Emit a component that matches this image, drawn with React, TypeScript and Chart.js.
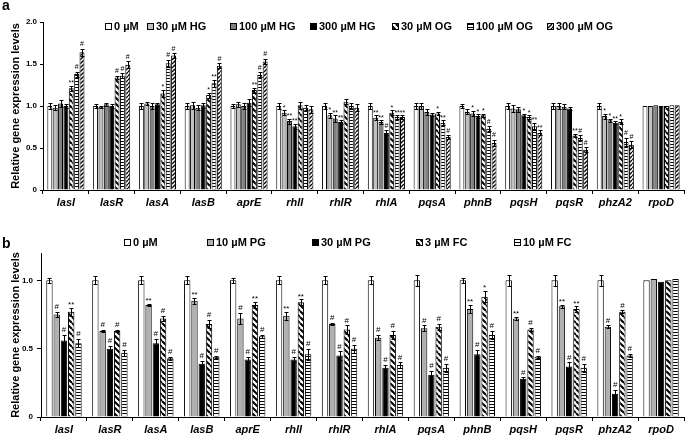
import React, { useEffect, useRef } from 'react';
import { Chart, registerables } from 'chart.js';

Chart.register(...registerables);

const FONT = '"Liberation Sans", Arial, sans-serif';
Chart.defaults.font.family = FONT;

const genes = ['lasI', 'lasR', 'lasA', 'lasB', 'aprE', 'rhlI', 'rhlR', 'rhlA', 'pqsA', 'phnB', 'pqsH', 'pqsR', 'phzA2', 'rpoD'];

// ---------- Panel a ----------
const yTicksA = [0, 0.5, 1, 1.5, 2];
const legendA = ['0 µM', '30 µM HG', '100 µM HG', '300 µM HG', '30 µM OG', '100 µM OG', '300 µM OG'];
const a0 = [1.0, 1.0, 1.0, 1.0, 1.0, 1.0, 1.0, 1.0, 1.0, 1.0, 1.0, 1.0, 1.0, 1.0];
const aHG30 = [0.98, 0.99, 1.03, 1.01, 1.02, 0.92, 0.89, 0.86, 1.0, 0.93, 0.97, 1.0, 0.88, 1.0];
const aHG100 = [1.03, 1.02, 1.0, 0.98, 1.0, 0.82, 0.85, 0.81, 0.93, 0.91, 0.96, 0.99, 0.83, 1.01];
const aHG300 = [1.0, 1.0, 1.02, 1.01, 1.04, 0.76, 0.81, 0.68, 0.9, 0.88, 0.89, 0.97, 0.8, 1.0];
const aOG30 = [1.21, 1.34, 1.15, 1.13, 1.19, 1.01, 1.05, 0.92, 0.91, 0.89, 0.87, 0.65, 0.81, 1.0];
const aOG100 = [1.38, 1.36, 1.51, 1.27, 1.37, 0.98, 1.0, 0.87, 0.8, 0.73, 0.76, 0.62, 0.57, 1.01];
const aOG300 = [1.64, 1.49, 1.6, 1.48, 1.53, 0.96, 0.98, 0.87, 0.63, 0.56, 0.68, 0.48, 0.54, 1.01];

const aErr0 = [0.03, 0.02, 0.03, 0.03, 0.02, 0.03, 0.03, 0.03, 0.04, 0.02, 0.04, 0.04, 0.04, 0];
const aErrHG30 = [0.03, 0.01, 0.02, 0.04, 0.03, 0.03, 0.03, 0.03, 0.03, 0.03, 0.04, 0.03, 0.03, 0];
const aErrHG100 = [0.04, 0.02, 0.03, 0.03, 0.03, 0.03, 0.04, 0.02, 0.04, 0.03, 0.03, 0.03, 0.02, 0];
const aErrHG300 = [0.02, 0.02, 0.02, 0.03, 0.04, 0.03, 0.02, 0.03, 0.02, 0.02, 0.02, 0.02, 0.02, 0];
const aErrOG30 = [0.03, 0.02, 0.04, 0.03, 0.03, 0.04, 0.03, 0.03, 0.02, 0.02, 0.02, 0.02, 0.03, 0];
const aErrOG100 = [0.03, 0.03, 0.04, 0.04, 0.03, 0.03, 0.03, 0.02, 0.03, 0.03, 0.04, 0.03, 0.05, 0];
const aErrOG300 = [0.04, 0.04, 0.03, 0.03, 0.03, 0.04, 0.04, 0.02, 0.02, 0.04, 0.03, 0.03, 0.04, 0];

const aMk0 = ['', '', '', '', '', '', '', '', '', '', '', '', '', ''];
const aMkHG30 = ['', '', '', '', '', '*', '*', '**', '', '', '', '', '*', ''];
const aMkHG100 = ['', '', '', '', '', '**', '**', '**', '', '*', '', '', '*', ''];
const aMkHG300 = ['', '', '', '', '', '**', '**', '#', '', '*', '*', '', '**', ''];
const aMkOG30 = ['**', '#', '*', '*', '**', '', '', '*', '*', '*', '*', '**', '*', ''];
const aMkOG100 = ['#', '#', '#', '**', '#', '', '', '**', '**', '#', '**', '#', '#', ''];
const aMkOG300 = ['#', '#', '#', '#', '#', '', '', '**', '#', '#', '**', '#', '#', ''];

// ---------- Panel b ----------
const yTicksB = [0, 0.5, 1];
const legendB = ['0 µM', '10 µM PG', '30 µM PG', '3 µM FC', '10 µM FC'];
const b0 = [1.0, 1.0, 1.0, 1.0, 1.0, 1.0, 1.0, 1.0, 1.0, 1.0, 1.0, 1.0, 1.0, 1.0];
const bPG10 = [0.75, 0.63, 0.82, 0.85, 0.72, 0.74, 0.68, 0.58, 0.65, 0.79, 0.72, 0.81, 0.66, 1.01];
const bPG30 = [0.56, 0.5, 0.54, 0.39, 0.42, 0.42, 0.45, 0.36, 0.31, 0.46, 0.28, 0.37, 0.17, 0.99];
const bFC3 = [0.77, 0.63, 0.72, 0.68, 0.82, 0.84, 0.64, 0.6, 0.66, 0.88, 0.64, 0.79, 0.77, 1.0];
const bFC10 = [0.54, 0.47, 0.43, 0.44, 0.59, 0.46, 0.5, 0.38, 0.36, 0.6, 0.44, 0.36, 0.45, 1.01];

const bErr0 = [0.02, 0.03, 0.03, 0.03, 0.02, 0.03, 0.03, 0.03, 0.04, 0.02, 0.04, 0.04, 0.04, 0];
const bErrPG10 = [0.02, 0.01, 0.01, 0.02, 0.04, 0.03, 0.01, 0.02, 0.02, 0.03, 0.01, 0.01, 0.01, 0];
const bErrPG30 = [0.04, 0.02, 0.03, 0.02, 0.02, 0.02, 0.03, 0.02, 0.03, 0.03, 0.01, 0.03, 0.03, 0];
const bErrFC3 = [0.03, 0.01, 0.02, 0.03, 0.02, 0.02, 0.03, 0.03, 0.02, 0.04, 0.01, 0.02, 0.01, 0];
const bErrFC10 = [0.03, 0.02, 0.01, 0.01, 0.01, 0.04, 0.03, 0.02, 0.03, 0.03, 0.01, 0.03, 0.01, 0];

const bMk0 = ['', '', '', '', '', '', '', '', '', '', '', '', '', ''];
const bMkPG10 = ['#', '#', '**', '**', '#', '**', '#', '#', '#', '**', '**', '**', '#', ''];
const bMkPG30 = ['#', '#', '#', '#', '#', '#', '#', '#', '#', '#', '#', '#', '#', ''];
const bMkFC3 = ['**', '#', '#', '#', '**', '**', '#', '#', '#', '*', '#', '**', '#', ''];
const bMkFC10 = ['#', '#', '#', '#', '#', '#', '#', '#', '#', '#', '#', '#', '#', ''];

const yTitle = 'Relative gene expression levels';

type PatKind = 'diagWide' | 'horiz' | 'diagDense';

function makePattern(kind: PatKind): CanvasPattern | string {
  const c = document.createElement('canvas');
  const s = kind === 'horiz' ? 3 : kind === 'diagWide' ? 6 : 4;
  c.width = s;
  c.height = s;
  const g = c.getContext('2d');
  if (!g) return '#888';
  g.fillStyle = '#fff';
  g.fillRect(0, 0, s, s);
  g.strokeStyle = '#000';
  g.fillStyle = '#000';
  if (kind === 'horiz') {
    g.fillRect(0, 0, s, 1);
  } else if (kind === 'diagWide') {
    g.lineWidth = 2;
    for (const k of [-s, 0, s]) {
      g.beginPath();
      g.moveTo(k, 0);
      g.lineTo(k + s, s);
      g.stroke();
    }
  } else {
    g.lineWidth = 1.3;
    for (const k of [-s, 0, s]) {
      g.beginPath();
      g.moveTo(k, s);
      g.lineTo(k + s, 0);
      g.stroke();
    }
  }
  const p = g.createPattern(c, 'repeat');
  return p || '#888';
}

const errorPlugin = {
  id: 'errorMarks',
  afterDatasetsDraw(chart: any, _args: any, opts: any) {
    const ctx = chart.ctx;
    const ys = chart.scales.y;
    const fs = (opts && opts.size) || 7;
    ctx.save();
    ctx.strokeStyle = '#000';
    ctx.fillStyle = '#000';
    ctx.lineWidth = 1;
    ctx.font = `${fs}px ${FONT}`;
    ctx.textAlign = 'center';
    ctx.textBaseline = 'bottom';
    chart.data.datasets.forEach((ds: any, i: number) => {
      const meta = chart.getDatasetMeta(i);
      meta.data.forEach((bar: any, j: number) => {
        const v = ds.data[j];
        const e = ds.errors ? ds.errors[j] : 0;
        const x = Math.round(bar.x) + 0.5;
        const top = ys.getPixelForValue(v + e);
        const bot = ys.getPixelForValue(v - e);
        if (e > 0) {
          const t = Math.round(top) + 0.5;
          const b = Math.round(bot) + 0.5;
          ctx.beginPath();
          ctx.moveTo(x, t);
          ctx.lineTo(x, b);
          ctx.moveTo(x - 2, t);
          ctx.lineTo(x + 2, t);
          ctx.moveTo(x - 2, b);
          ctx.lineTo(x + 2, b);
          ctx.stroke();
        }
        const m = ds.marks ? ds.marks[j] : '';
        if (m) {
          const off = m.indexOf('*') >= 0 ? -2 : 0;
          ctx.fillText(m, bar.x, top - 1 - off);
        }
      });
    });
    ctx.restore();
  },
};

function decorPlugin(letter: string, xs: number[], yc: number, letterBase: number) {
  return {
    id: 'decor' + letter,
    afterDraw(chart: any) {
      const ctx = chart.ctx;
      ctx.save();
      ctx.fillStyle = '#000';
      ctx.textAlign = 'left';
      ctx.textBaseline = 'alphabetic';
      ctx.font = `bold 14px ${FONT}`;
      ctx.fillText(letter, 2, letterBase);
      ctx.font = `bold 11px ${FONT}`;
      ctx.textBaseline = 'middle';
      chart.data.datasets.forEach((ds: any, i: number) => {
        const x = xs[i];
        ctx.fillStyle = ds.backgroundColor;
        ctx.fillRect(x, yc - 4, 7, 7);
        ctx.strokeStyle = '#000';
        ctx.lineWidth = 1;
        ctx.strokeRect(x + 0.5, yc - 3.5, 6, 6);
        ctx.fillStyle = '#000';
        ctx.fillText(ds.label, x + 9, yc);
      });
      ctx.restore();
    },
  };
}

function makeChart(
  canvas: HTMLCanvasElement,
  series: { label: string; data: number[]; fill: any; errors: number[]; marks: string[] }[],
  cfg: {
    yMax: number;
    ticks: number[];
    padTop: number;
    xHeight: number;
    yWidth: number;
    catPct: number;
    barPct: number;
    tickPad: number;
    yTickLen: number;
    markSize: number;
    letter: string;
    legendX: number[];
    legendY: number;
    letterBase: number;
  }
) {
  return new Chart(canvas, {
    type: 'bar',
    data: {
      labels: genes,
      datasets: series.map((s) => ({
        label: s.label,
        data: s.data,
        backgroundColor: s.fill,
        borderColor: '#000',
        borderWidth: 1,
        categoryPercentage: cfg.catPct,
        barPercentage: cfg.barPct,
        errors: s.errors,
        marks: s.marks,
      })) as any,
    },
    options: {
      animation: false,
      responsive: false,
      maintainAspectRatio: false,
      layout: { padding: { top: cfg.padTop, right: 1, left: 0, bottom: 0 } },
      plugins: {
        legend: { display: false },
        tooltip: { enabled: false },
        errorMarks: { size: cfg.markSize },
      } as any,
      scales: {
        x: {
          grid: { display: true, drawOnChartArea: false, drawTicks: true, tickLength: 4, color: '#000', offset: true },
          border: { display: true, color: '#000', width: 1 },
          ticks: {
            color: '#000',
            font: { size: 11, weight: 'bold', style: 'italic' },
            padding: 2,
            autoSkip: false,
            maxRotation: 0,
          },
          afterFit: (s: any) => {
            s.height = cfg.xHeight;
          },
        },
        y: {
          min: 0,
          max: cfg.yMax,
          afterBuildTicks: (s: any) => {
            s.ticks = cfg.ticks.map((v) => ({ value: v }));
          },
          grid: { display: true, drawOnChartArea: false, drawTicks: true, tickLength: cfg.yTickLen, color: '#000' },
          border: { display: true, color: '#000', width: 1 },
          ticks: { color: '#000', font: { size: 8, weight: 'bold' }, padding: cfg.tickPad },
          title: { display: true, text: yTitle, color: '#000', font: { size: 11, weight: 'bold' }, padding: { top: 9, bottom: 0 } },
          afterFit: (s: any) => {
            s.width = cfg.yWidth;
          },
        },
      } as any,
    },
    plugins: [errorPlugin, decorPlugin(cfg.letter, cfg.legendX, cfg.legendY, cfg.letterBase)],
  });
}

export default function App() {
  const refA = useRef<HTMLCanvasElement>(null);
  const refB = useRef<HTMLCanvasElement>(null);

  useEffect(() => {
    if (!refA.current || !refB.current) return;
    const diagWide = makePattern('diagWide');
    const horiz = makePattern('horiz');
    const diagDense = makePattern('diagDense');

    const seriesA = [
      { label: legendA[0], data: a0, fill: '#ffffff', errors: aErr0, marks: aMk0 },
      { label: legendA[1], data: aHG30, fill: '#c0c0c0', errors: aErrHG30, marks: aMkHG30 },
      { label: legendA[2], data: aHG100, fill: '#808080', errors: aErrHG100, marks: aMkHG100 },
      { label: legendA[3], data: aHG300, fill: '#000000', errors: aErrHG300, marks: aMkHG300 },
      { label: legendA[4], data: aOG30, fill: diagWide, errors: aErrOG30, marks: aMkOG30 },
      { label: legendA[5], data: aOG100, fill: horiz, errors: aErrOG100, marks: aMkOG100 },
      { label: legendA[6], data: aOG300, fill: diagDense, errors: aErrOG300, marks: aMkOG300 },
    ];
    const seriesB = [
      { label: legendB[0], data: b0, fill: '#ffffff', errors: bErr0, marks: bMk0 },
      { label: legendB[1], data: bPG10, fill: '#b0b0b0', errors: bErrPG10, marks: bMkPG10 },
      { label: legendB[2], data: bPG30, fill: '#000000', errors: bErrPG30, marks: bMkPG30 },
      { label: legendB[3], data: bFC3, fill: diagWide, errors: bErrFC3, marks: bMkFC3 },
      { label: legendB[4], data: bFC10, fill: horiz, errors: bErrFC10, marks: bMkFC10 },
    ];

    const ca = makeChart(refA.current, seriesA, {
      yMax: 2,
      ticks: yTicksA,
      padTop: 22,
      xHeight: 25,
      yWidth: 43,
      catPct: 0.82,
      barPct: 0.92,
      tickPad: 3,
      yTickLen: 3,
      markSize: 7,
      letter: 'a',
      legendX: [105, 147, 230, 310, 392, 467, 547],
      legendY: 27,
      letterBase: 10,
    });
    const cb = makeChart(refB.current, seriesB, {
      yMax: 1.2,
      ticks: yTicksB,
      padTop: 38,
      xHeight: 18,
      yWidth: 41,
      catPct: 0.79,
      barPct: 0.88,
      tickPad: 4,
      yTickLen: 4,
      markSize: 8,
      letter: 'b',
      legendX: [124, 207, 312, 416, 514],
      legendY: 28,
      letterBase: 33,
    });
    return () => {
      ca.destroy();
      cb.destroy();
    };
  }, []);

  return (
    <div style={{ position: 'absolute', left: 0, top: 0, width: 685, height: 435, background: '#fff' }}>
      <canvas ref={refA} width={685} height={215} style={{ position: 'absolute', left: 0, top: 0, width: 685, height: 215 }} />
      <canvas ref={refB} width={685} height={220} style={{ position: 'absolute', left: 0, top: 215, width: 685, height: 220 }} />
    </div>
  );
}
